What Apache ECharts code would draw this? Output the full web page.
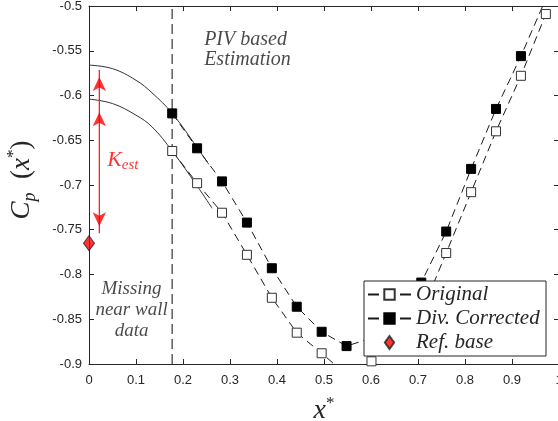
<!DOCTYPE html>
<html>
<head>
<meta charset="utf-8">
<script src="https://cdn.jsdelivr.net/npm/echarts@6/dist/echarts.min.js"></script>
<style>
  html, body { margin: 0; padding: 0; background: #fff; }
  #chart { width: 558px; height: 421px; }
</style>
</head>
<body>
<div id="chart"></div>
<script>
// Axis ticks
const xTicks = [0, 0.1, 0.2, 0.3, 0.4, 0.5, 0.6, 0.7, 0.8, 0.9, 1];
const yTicks = [-0.9, -0.85, -0.8, -0.75, -0.7, -0.65, -0.6, -0.55, -0.5];

// PIV stations along the wall
const xStations = [0.177, 0.23, 0.283, 0.336, 0.389, 0.442, 0.495, 0.548,
                   0.601, 0.654, 0.707, 0.760, 0.813, 0.866, 0.919, 0.972];
const cpOriginal = [-0.662, -0.698, -0.731, -0.778, -0.826, -0.865, -0.888, -0.912,
                    -0.897, -0.876, -0.843, -0.776, -0.708, -0.640, -0.578, -0.509];
const cpCorrected = [-0.620, -0.659, -0.696, -0.742, -0.793, -0.836, -0.864, -0.880,
                     -0.871, -0.845, -0.809, -0.752, -0.682, -0.615, -0.556, -0.492];

// Near-wall extrapolation curves
const fitOrigX = [0, 0.05, 0.1, 0.134, 0.177, 0.23, 0.262];
const fitOrigY = [-0.604, -0.609, -0.622, -0.635, -0.662, -0.701, -0.726];
const fitCorrX = [0, 0.05, 0.1, 0.134, 0.177, 0.23, 0.255];
const fitCorrY = [-0.566, -0.570, -0.583, -0.597, -0.620, -0.658, -0.677];

// Limit of the PIV field of view
const pivLimit = 0.177;

// Reference base pressure
const refBase = [0, -0.765];

// K_est arrow: shaft position and arrow-tip levels
const kArrowX = 0.022;
const kTipTop = -0.5715;
const kTipMid = -0.611;
const kTipBottom = -0.754;

// Text annotations (anchor positions)
const notePIV = [0.245, -0.549];
const noteMissing = [0.0905, -0.8395];
const noteK = [0.072, -0.672];

const zip = (xs, ys) => xs.map((x, i) => [x, ys[i]]);

const axisColor = '#262626';
const serif = 'Liberation Serif';
const arrowW = 10, arrowH = 14;

const chart = echarts.init(document.getElementById('chart'), null, { renderer: 'canvas' });

const baseX = {
  type: 'value',
  min: xTicks[0],
  max: xTicks[xTicks.length - 1],
  interval: xTicks[1] - xTicks[0],
  splitLine: { show: false },
  axisLine: { show: true, onZero: false, lineStyle: { color: axisColor, width: 1 } },
  axisTick: { show: true, inside: true, length: 5, lineStyle: { color: axisColor } }
};
const baseY = {
  type: 'value',
  min: yTicks[0],
  max: yTicks[yTicks.length - 1],
  interval: 0.05,
  splitLine: { show: false },
  axisLine: { show: true, onZero: false, lineStyle: { color: axisColor, width: 1 } },
  axisTick: { show: true, inside: true, length: 5, lineStyle: { color: axisColor } }
};

const option = {
  animation: false,
  backgroundColor: '#fff',
  grid: { left: 89, top: 6, width: 470, height: 358, containLabel: false, outerBoundsMode: 'none' },
  xAxis: [
    Object.assign({}, baseX, {
      position: 'bottom',
      axisLabel: { color: axisColor, fontSize: 13, fontFamily: 'Liberation Sans', margin: 10, showMaxLabel: true, hideOverlap: false },
      name: '{x|x}{s|*}',
      nameLocation: 'middle',
      nameGap: 31,
      nameTextStyle: {
        color: axisColor,
        rich: {
          x: { fontFamily: serif, fontStyle: 'italic', fontSize: 28, lineHeight: 32, color: axisColor },
          s: { fontFamily: serif, fontSize: 17, lineHeight: 16, verticalAlign: 'top', color: axisColor }
        }
      }
    }),
    Object.assign({}, baseX, { position: 'top', axisLabel: { show: false } })
  ],
  yAxis: [
    Object.assign({}, baseY, {
      position: 'left',
      axisLabel: { color: axisColor, fontSize: 13, fontFamily: 'Liberation Sans', margin: 7 },
      name: '{c|C}{p|p}{t|  (}{x|x}{s|*}{t|)}',
      nameLocation: 'middle',
      nameRotate: 90,
      nameGap: 50,
      nameTextStyle: {
        color: axisColor,
        padding: [0, 0, 0, 10],
        rich: {
          c: { fontFamily: serif, fontStyle: 'italic', fontSize: 27, lineHeight: 34, color: axisColor },
          p: { fontFamily: serif, fontStyle: 'italic', fontSize: 18, lineHeight: 17, verticalAlign: 'bottom', color: axisColor },
          t: { fontFamily: serif, fontSize: 27, lineHeight: 34, color: axisColor },
          x: { fontFamily: serif, fontStyle: 'italic', fontSize: 27, lineHeight: 34, color: axisColor },
          s: { fontFamily: serif, fontSize: 17, lineHeight: 16, verticalAlign: 'top', color: axisColor }
        }
      }
    }),
    Object.assign({}, baseY, { position: 'right', axisLabel: { show: false } })
  ],
  legend: {
    data: [
      { name: 'Original' },
      { name: 'Div. Corrected' },
      { name: 'Ref. base', icon: 'path://M5,0L10,7L5,14L0,7Z' }
    ],
    orient: 'vertical',
    left: 364,
    top: 281,
    itemWidth: 43,
    itemHeight: 13,
    itemGap: 3,
    padding: [3, 2, 3, 3],
    backgroundColor: '#fff',
    borderColor: axisColor,
    borderWidth: 1,
    borderRadius: 0,
    selectedMode: false,
    lineStyle: { type: [11, 21] },
    textStyle: {
      fontFamily: serif, fontStyle: 'italic', fontSize: 21, lineHeight: 20,
      color: axisColor, width: 128, overflow: 'none'
    }
  },
  series: [
    {
      name: 'pivLimit',
      type: 'line',
      data: [[pivLimit, yTicks[0]], [pivLimit, yTicks[yTicks.length - 1]]],
      symbol: 'none',
      silent: true,
      z: 1,
      lineStyle: { color: '#5c5c5c', width: 1.5, type: [10, 5] }
    },
    {
      name: 'fitOriginal',
      type: 'line',
      data: zip(fitOrigX, fitOrigY),
      smooth: 0.4,
      symbol: 'none',
      silent: true,
      z: 2,
      lineStyle: { color: '#333', width: 1 }
    },
    {
      name: 'fitCorrected',
      type: 'line',
      data: zip(fitCorrX, fitCorrY),
      smooth: 0.4,
      symbol: 'none',
      silent: true,
      z: 2,
      lineStyle: { color: '#333', width: 1 }
    },
    {
      name: 'Original',
      type: 'line',
      data: zip(xStations, cpOriginal),
      symbol: 'rect',
      symbolSize: 9,
      showAllSymbol: true,
      z: 3,
      lineStyle: { color: '#1a1a1a', width: 1, type: [8, 5] },
      itemStyle: { color: '#fff', borderColor: '#333', borderWidth: 1 }
    },
    {
      name: 'Div. Corrected',
      type: 'line',
      data: zip(xStations, cpCorrected),
      symbol: 'rect',
      symbolSize: 9,
      showAllSymbol: true,
      z: 3,
      lineStyle: { color: '#1a1a1a', width: 1, type: [8, 5] },
      itemStyle: { color: '#000', borderColor: '#000', borderWidth: 1 }
    },
    {
      name: 'kShaft',
      type: 'line',
      data: [[kArrowX, kTipBottom], [kArrowX, kTipTop]],
      symbol: 'none',
      silent: true,
      z: 4,
      lineStyle: { color: '#ff2020', width: 1.3 }
    },
    {
      name: 'kHeads',
      type: 'scatter',
      silent: true,
      z: 4,
      clip: false,
      symbol: 'arrow',
      symbolSize: [arrowW, arrowH],
      itemStyle: { color: '#ff0000' },
      data: [
        { value: [kArrowX, kTipTop], symbolOffset: [0, arrowH / 2] },
        { value: [kArrowX, kTipMid], symbolOffset: [0, arrowH / 2] },
        { value: [kArrowX, kTipBottom], symbolRotate: 180, symbolOffset: [0, -arrowH / 2] }
      ]
    },
    {
      name: 'Ref. base',
      type: 'scatter',
      data: [refBase],
      clip: false,
      symbol: 'diamond',
      symbolSize: [11, 15],
      z: 5,
      itemStyle: { color: '#ff0000', borderColor: '#222', borderWidth: 1 }
    },
    {
      name: 'notes',
      type: 'scatter',
      silent: true,
      clip: false,
      symbol: 'circle',
      symbolSize: 1,
      z: 6,
      itemStyle: { color: 'rgba(0,0,0,0)' },
      data: [
        {
          value: notePIV,
          label: {
            show: true, position: 'inside', align: 'left', verticalAlign: 'middle',
            formatter: 'PIV based\nEstimation',
            fontFamily: serif, fontStyle: 'italic', fontSize: 20, lineHeight: 20, color: '#1a1a1a'
          }
        },
        {
          value: noteMissing,
          label: {
            show: true, position: 'inside', align: 'center', verticalAlign: 'middle',
            formatter: 'Missing\nnear wall\ndata',
            fontFamily: serif, fontStyle: 'italic', fontSize: 19, lineHeight: 21, color: '#1a1a1a'
          }
        },
        {
          value: noteK,
          label: {
            show: true, position: 'inside', align: 'center', verticalAlign: 'middle',
            formatter: '{k|K}{e|est}',
            rich: {
              k: { fontFamily: serif, fontStyle: 'italic', fontSize: 22, lineHeight: 26, color: '#ff0000' },
              e: { fontFamily: serif, fontStyle: 'italic', fontSize: 15, lineHeight: 14, verticalAlign: 'bottom', color: '#ff0000' }
            }
          }
        }
      ]
    }
  ]
};

chart.setOption(option);
</script>
</body>
</html>
